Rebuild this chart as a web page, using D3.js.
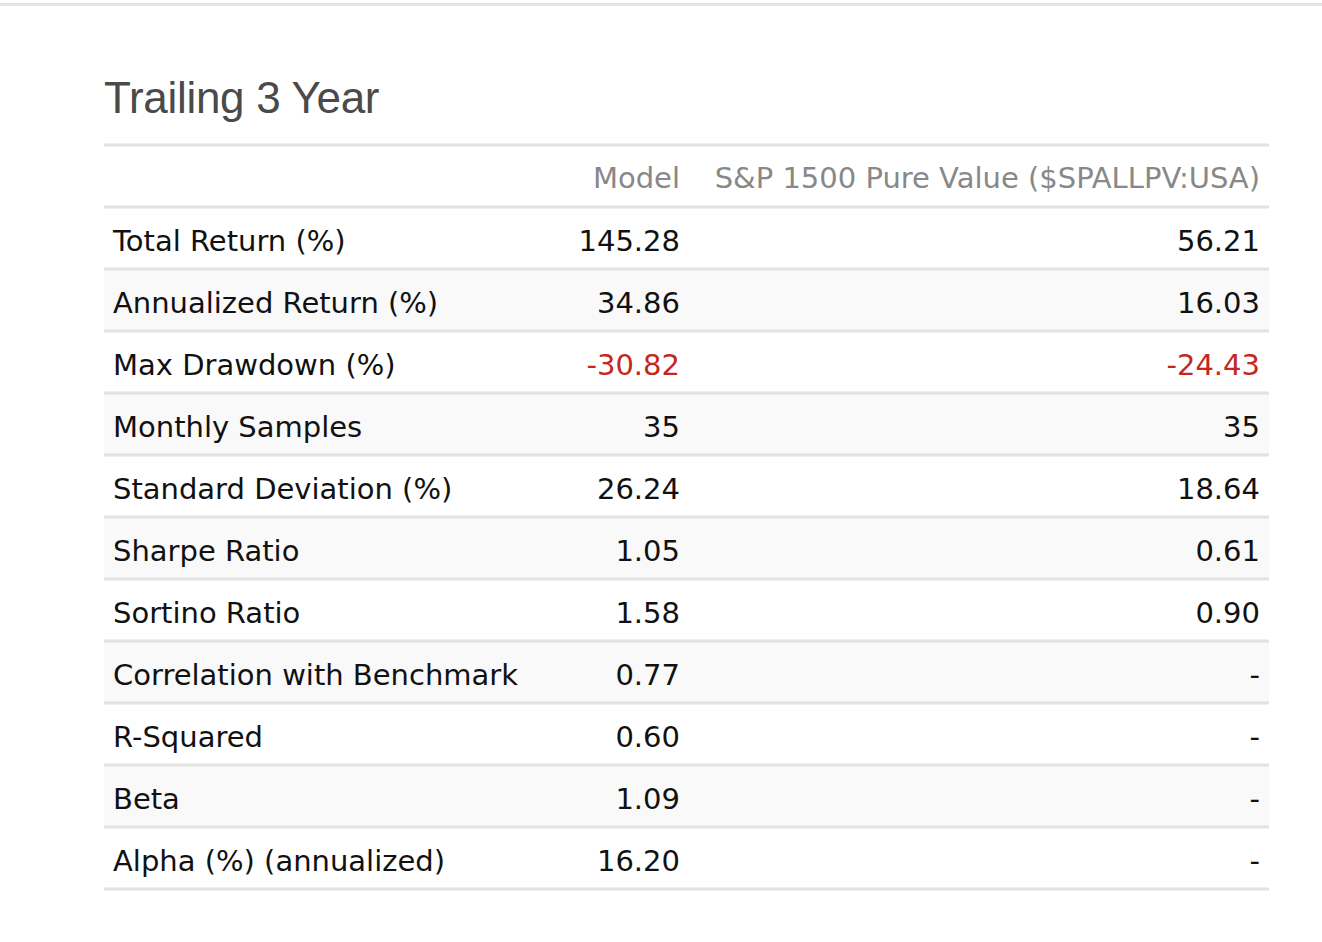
<!DOCTYPE html>
<html>
<head>
<meta charset="utf-8">
<script src="https://cdn.jsdelivr.net/npm/d3@7"></script>
<style>
  body { margin: 0; background: #fff; }
  svg { display: block; }
</style>
</head>
<body>
<div id="chart"></div>
<script>
// table content
var title = "Trailing 3 Year";
var columns = ["Model", "S&P 1500 Pure Value ($SPALLPV:USA)"];
var metrics = ["Total Return (%)", "Annualized Return (%)", "Max Drawdown (%)", "Monthly Samples",
  "Standard Deviation (%)", "Sharpe Ratio", "Sortino Ratio", "Correlation with Benchmark",
  "R-Squared", "Beta", "Alpha (%) (annualized)"];
var modelValues = [145.28, 34.86, -30.82, 35, 26.24, 1.05, 1.58, 0.77, 0.60, 1.09, 16.20];
var benchValues = [56.21, 16.03, -24.43, 35, 18.64, 0.61, 0.90, null, null, null, null];
var decimals = [2, 2, 2, 0, 2, 2, 2, 2, 2, 2, 2];

var width = 1322, height = 942;
var left = 104, right = 1269;
var modelX = 680, benchX = 1260;

var svg = d3.select("#chart").append("svg")
  .attr("width", width).attr("height", height);

// top page border
svg.append("line")
  .attr("x1", 0).attr("x2", width)
  .attr("y1", 4.5).attr("y2", 4.5)
  .attr("stroke", "#e4e4e4").attr("stroke-width", 3);

// title
svg.append("text")
  .attr("x", left).attr("y", 113)
  .attr("font-family", "'Liberation Sans', Arial, sans-serif")
  .attr("font-size", 44)
  .attr("letter-spacing", -0.3)
  .attr("fill", "#4a4a4a")
  .text(title);

//rows scale
var y = d3.scaleBand()
  .domain(metrics)
  .range([207, 889]);

var font = "'DejaVu Sans', Verdana, sans-serif";
var fs = 29;

// striped rows
svg.selectAll("rect.stripe")
  .data(metrics.filter(function(d, i) { return i % 2 == 1; }))
  .enter().append("rect")
  .attr("class", "stripe")
  .attr("x", left).attr("width", right - left)
  .attr("y", function(d) { return y(d); })
  .attr("height", y.bandwidth())
  .attr("fill", "#f9f9f9");

// horizontal rules
var ruleYs = [145].concat(metrics.map(function(d) { return y(d); }), [889]);
svg.selectAll("line.rule")
  .data(ruleYs)
  .enter().append("line")
  .attr("class", "rule")
  .attr("x1", left).attr("x2", right)
  .attr("y1", function(d) { return d; }).attr("y2", function(d) { return d; })
  .attr("stroke", "#e2e2e2").attr("stroke-width", 3);

// header
var header = svg.append("g")
  .attr("font-family", font).attr("font-size", fs)
  .attr("fill", "#888").attr("text-anchor", "end");
header.append("text").attr("x", modelX).attr("y", 188).text(columns[0]);
header.append("text").attr("x", benchX).attr("y", 188).text(columns[1]);

function fmt(v, i) {
  if (v == null) return "-";
  return d3.format("." + decimals[i] + "f")(v).replace("\u2212", "-");
}

var rows = svg.selectAll("g.row")
  .data(metrics)
  .enter().append("g")
  .attr("class", "row")
  .attr("transform", function(d) { return "translate(0," + (y(d) + 43.5) + ")"; })
  .attr("font-family", font).attr("font-size", fs);

rows.append("text")
  .attr("x", left + 9)
  .attr("fill", "#111")
  .text(function(d) { return d; });

rows.append("text")
  .attr("x", modelX)
  .attr("text-anchor", "end")
  .attr("fill", function(d, i) { return modelValues[i] < 0 ? "#c4281c" : "#111"; })
  .text(function(d, i) { return fmt(modelValues[i], i); });

rows.append("text")
  .attr("x", benchX)
  .attr("text-anchor", "end")
  .attr("fill", function(d, i) { return benchValues[i] != null && benchValues[i] < 0 ? "#c4281c" : "#111"; })
  .text(function(d, i) { return fmt(benchValues[i], i); });
</script>
</body>
</html>
